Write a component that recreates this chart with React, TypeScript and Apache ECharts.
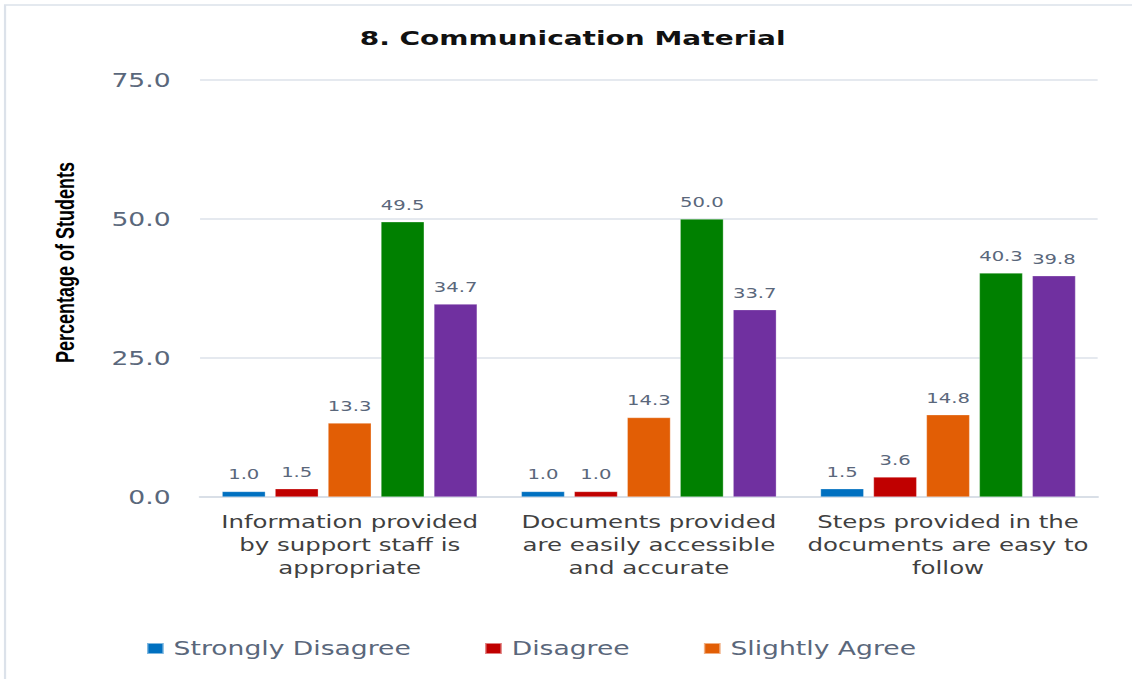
import React, { useEffect, useRef } from "react";
import * as echarts from "echarts";

// Survey statements (x-axis categories)
const categories = [
  "Information provided\nby support staff is\nappropriate",
  "Documents provided\nare easily accessible\nand accurate",
  "Steps provided in the\ndocuments are easy to\nfollow",
];

// Response levels, one series each
const seriesNames = [
  "Strongly Disagree",
  "Disagree",
  "Slightly Agree",
  "Agree",
  "Strongly Agree",
];

// Percentage of students per response level, per statement
const stronglyDisagree = [1.0, 1.0, 1.5];
const disagree = [1.5, 1.0, 3.6];
const slightlyAgree = [13.3, 14.3, 14.8];
const agree = [49.5, 50.0, 40.3];
const stronglyAgree = [34.7, 33.7, 39.8];

const seriesValues = [stronglyDisagree, disagree, slightlyAgree, agree, stronglyAgree];
const seriesColors = ["#0070C0", "#C00000", "#E25E05", "#008000", "#7030A0"];

// Only the first three levels appear in the legend row
const legendItems = ["Strongly Disagree", "Disagree", "Slightly Agree"];

// Y-axis ticks
const yMin = 0;
const yMax = 75;
const yStep = 25;

const STRETCH = 1.4;
const PAGE_W = 1132;
const PAGE_H = 679;
const CHART_W = PAGE_W / STRETCH;

export default function App() {
  const ref = useRef<HTMLDivElement | null>(null);

  useEffect(() => {
    if (!ref.current) return;
    const chart = echarts.init(ref.current, undefined, { renderer: "svg" });
    const labelColor = "#5A677B";
    const sans = "DejaVu Sans";

    chart.setOption({
      animation: false,
      backgroundColor: "#ffffff",
      title: {
        text: "8. Communication Material",
        left: 409,
        top: 28,
        padding: 0,
        textAlign: "center",
        textStyle: {
          fontFamily: sans,
          fontWeight: "bold",
          fontSize: 20,
          color: "#111111",
        },
      },
      graphic: [
        {
          type: "rect",
          shape: { x: 3.6, y: 5, width: 2000, height: 2000 },
          style: { fill: "none", stroke: "#DCE2EA", lineWidth: 1.6 },
          silent: true,
        },
      ],
      legend: {
        data: legendItems,
        left: 99,
        top: 634,
        itemWidth: 12,
        itemHeight: 11,
        itemGap: 52,
        icon: "rect",
        textStyle: {
          fontFamily: sans,
          fontSize: 19,
          color: labelColor,
          padding: [0, 0, 0, 2],
        },
      },
      grid: {
        left: 142.9,
        right: CHART_W - 783.6,
        top: 80,
        bottom: PAGE_H - 497,
        containLabel: false,
      },
      xAxis: {
        type: "category",
        data: categories,
        axisTick: { show: false },
        axisLine: { lineStyle: { color: "#D9DFE7", width: 2 } },
        axisLabel: {
          margin: 13,
          fontFamily: sans,
          fontSize: 17.5,
          lineHeight: 23,
          color: "#404040",
          interval: 0,
        },
      },
      yAxis: {
        type: "value",
        min: yMin,
        max: yMax,
        interval: yStep,
        name: "Percentage of Students",
        nameLocation: "middle",
        nameGap: 87,
        nameTextStyle: {
          fontFamily: "Liberation Sans",
          fontWeight: "bold",
          fontSize: 18,
          color: "#000000",
          padding: [0, 0, 0, 52],
        },
        axisLine: { show: false },
        axisTick: { show: false },
        axisLabel: {
          margin: 21,
          fontFamily: sans,
          fontSize: 19,
          color: labelColor,
          formatter: (v: number) => v.toFixed(1),
        },
        splitLine: { lineStyle: { color: "#DCE2EA", width: 1.5 } },
      },
      series: seriesNames.map((name, i) => ({
        name,
        type: "bar",
        data: seriesValues[i],
        barWidth: 31,
        barGap: "22%",
        itemStyle: { color: seriesColors[i], borderColor: "rgba(255,255,255,0.5)", borderWidth: 0.5 },
        label: {
          show: true,
          position: "top",
          distance: 10,
          fontFamily: sans,
          fontSize: 14,
          color: labelColor,
          formatter: (p: any) => Number(p.value).toFixed(1),
        },
      })),
    });

    return () => chart.dispose();
  }, []);

  return (
    <div
      style={{
        position: "fixed",
        left: 0,
        top: 0,
        width: PAGE_W,
        height: PAGE_H,
        overflow: "hidden",
        background: "#ffffff",
      }}
    >
      <div
        ref={ref}
        style={{
          width: CHART_W,
          height: PAGE_H,
          transform: `scaleX(${STRETCH})`,
          transformOrigin: "0 0",
        }}
      />
    </div>
  );
}
